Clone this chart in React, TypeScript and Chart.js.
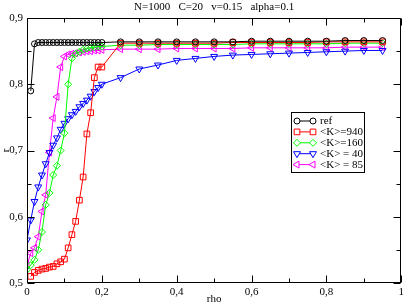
import React, { useEffect, useRef } from 'react';
import { Chart, registerables } from 'chart.js';
import { drawPoint } from 'chart.js/helpers';

Chart.register(...registerables);

const titleText = 'N=1000   C=20   v=0.15   alpha=0.1';

const rho = [0, 0.01, 0.02, 0.03, 0.04, 0.05, 0.06, 0.07, 0.08, 0.09, 0.1, 0.11, 0.12, 0.13, 0.14, 0.15, 0.16, 0.17, 0.18, 0.19, 0.2,
  0.25, 0.3, 0.35, 0.4, 0.45, 0.5, 0.55, 0.6, 0.65, 0.7, 0.75, 0.8, 0.85, 0.9, 0.95];

const rRef = [null, 0.79, 0.861, 0.863, 0.863, 0.863, 0.863, 0.863, 0.863, 0.863, 0.863, 0.863, 0.863, 0.863, 0.863, 0.863, 0.863, 0.863, 0.863, 0.863, 0.863,
  0.864, 0.864, 0.864, 0.864, 0.864, 0.864, 0.864, 0.865, 0.865, 0.865, 0.865, 0.865, 0.866, 0.866, 0.866];

const rK940 = [null, 0.51, 0.516, 0.519, 0.521, 0.522, 0.524, 0.525, 0.529, 0.532, 0.536, 0.553, 0.573, 0.593, 0.625, 0.66, 0.725, 0.757, 0.81, 0.826, 0.826,
  0.862, 0.862, 0.862, 0.862, 0.862, 0.862, 0.863, 0.863, 0.863, 0.863, 0.863, 0.864, 0.864, 0.864, 0.864];

const rK160 = [0.52, 0.527, 0.535, 0.55, 0.577, 0.618, 0.636, 0.663, 0.677, 0.7, 0.726, 0.8, 0.839, 0.846, 0.849, 0.852, 0.854, 0.855, 0.856, 0.857, 0.857,
  0.859, 0.859, 0.86, 0.86, 0.86, 0.86, 0.86, 0.861, 0.861, 0.861, 0.861, 0.861, 0.862, 0.862, 0.862];

const rK40 = [0.565, 0.595, 0.623, 0.645, 0.663, 0.68, 0.697, 0.708, 0.719, 0.732, 0.741, 0.748, 0.754, 0.759, 0.766, 0.771, 0.776, 0.782, 0.789, 0.795, 0.8,
  0.81, 0.823, 0.829, 0.836, 0.839, 0.842, 0.844, 0.845, 0.846, 0.847, 0.848, 0.849, 0.85, 0.851, 0.851];

const rK85 = [0.527, 0.545, 0.553, 0.57, 0.608, 0.633, 0.697, 0.749, 0.781, 0.826, 0.842, 0.845, 0.846, 0.847, 0.848, 0.849, 0.85, 0.85, 0.851, 0.851, 0.852,
  0.853, 0.853, 0.853, 0.854, 0.854, 0.854, 0.854, 0.855, 0.855, 0.855, 0.855, 0.855, 0.856, 0.856, 0.856];

const seriesLabels = ['ref', '<K>=940', '<K>=160', '<K> = 40', '<K> = 85'];
const seriesValues = [rRef, rK940, rK160, rK40, rK85];
const seriesColors = ['#000000', '#ff0000', '#00ff00', '#0000ff', '#ff00ff'];
const seriesStyles = ['circle', 'rect', 'rectRot', 'triangle', 'triangle'];
const seriesRotations = [0, 0, 0, 180, 270];
const seriesRadius = [3, 4, 3.5, 4, 4];

const FONT = 'Liberation Serif';

function fmt(v: number) {
  if (Math.abs(v) < 1e-9) return '0';
  if (Math.abs(v - 1) < 1e-9) return '1';
  return v.toFixed(1).replace('.', ',');
}

const decorPlugin = {
  id: 'decor',
  afterDraw(chart: any) {
    const { ctx, chartArea } = chart;
    const { left, right, top, bottom } = chartArea;
    const xs = chart.scales.x;
    const ys = chart.scales.y;
    ctx.save();
    // title
    ctx.fillStyle = '#000';
    ctx.font = `11px "${FONT}"`;
    ctx.textAlign = 'center';
    ctx.textBaseline = 'middle';
    ctx.fillText(titleText, (left + right) / 2, 7);
    // frame
    ctx.strokeStyle = '#000';
    ctx.lineWidth = 1;
    const L = Math.round(left) + 0.5, R = Math.round(right) - 0.5, T = Math.round(top) + 0.5, B = Math.round(bottom) - 0.5;
    ctx.strokeRect(L, T, R - L, B - T);
    const major = 7, minor = 4;
    const xt = xs.ticks.map((t: any) => t.value);
    const yt = ys.ticks.map((t: any) => t.value);
    const xMinor: number[] = [];
    for (let i = 0; i < xt.length - 1; i++) xMinor.push((xt[i] + xt[i + 1]) / 2);
    const yMinor: number[] = [];
    for (let i = 0; i < yt.length - 1; i++) yMinor.push((yt[i] + yt[i + 1]) / 2);
    ctx.beginPath();
    const xTick = (v: number, len: number) => {
      const px = Math.round(xs.getPixelForValue(v)) + 0.5;
      ctx.moveTo(px, B); ctx.lineTo(px, B - len);
      ctx.moveTo(px, T); ctx.lineTo(px, T + len);
    };
    const yTick = (v: number, len: number) => {
      const py = Math.round(ys.getPixelForValue(v)) + 0.5;
      ctx.moveTo(L, py); ctx.lineTo(L + len, py);
      ctx.moveTo(R, py); ctx.lineTo(R - len, py);
    };
    xt.forEach((v: number) => xTick(v, major));
    xMinor.forEach((v) => xTick(v, minor));
    yt.forEach((v: number) => yTick(v, major));
    yMinor.forEach((v) => yTick(v, minor));
    ctx.stroke();

    // legend
    const bx = 291, by = 112, bw = 73, bh = 60;
    ctx.fillStyle = '#fff';
    ctx.fillRect(bx, by, bw, bh);
    ctx.strokeStyle = '#000';
    ctx.strokeRect(bx + 0.5, by + 0.5, bw, bh);
    ctx.font = `11px "${FONT}"`;
    ctx.textAlign = 'left';
    ctx.textBaseline = 'middle';
    chart.data.datasets.forEach((ds: any, i: number) => {
      const yy = by + 9 + i * 10.9;
      const x1 = bx + 6, x2 = bx + 22;
      ctx.strokeStyle = ds.borderColor;
      ctx.lineWidth = 1;
      ctx.beginPath();
      ctx.moveTo(x1, yy); ctx.lineTo(x2, yy);
      ctx.stroke();
      const opts = {
        pointStyle: ds.pointStyle,
        rotation: ds.pointRotation,
        radius: ds.pointRadius,
        borderWidth: 1,
      };
      ctx.fillStyle = '#fff';
      ctx.strokeStyle = ds.borderColor;
      drawPoint(ctx, opts as any, x1, yy);
      drawPoint(ctx, opts as any, x2, yy);
      ctx.fillStyle = '#000';
      ctx.fillText(ds.label, bx + 29, yy + 0.5);
    });
    ctx.restore();
  },
};

export default function App() {
  const ref = useRef<HTMLCanvasElement | null>(null);
  useEffect(() => {
    document.body.style.margin = '0';
    const canvas = ref.current!;
    const datasets = seriesLabels.map((label, i) => ({
      label,
      data: rho
        .map((x, j) => ({ x, y: seriesValues[i][j] }))
        .filter((p) => p.y !== null),
      borderColor: seriesColors[i],
      backgroundColor: 'rgba(255,255,255,0)',
      borderWidth: 1,
      pointStyle: seriesStyles[i],
      pointRotation: seriesRotations[i],
      pointRadius: seriesRadius[i],
      pointBorderWidth: 1,
      pointBackgroundColor: 'rgba(255,255,255,0)',
      pointBorderColor: seriesColors[i],
      tension: 0,
      fill: false,
    }));
    const chart = new Chart(canvas, {
      type: 'line',
      data: { datasets },
      options: {
        responsive: false,
        animation: false,
        layout: { padding: { top: 18, right: 3, left: 0, bottom: 0 } },
        plugins: { legend: { display: false }, tooltip: { enabled: false }, title: { display: false } },
        scales: {
          x: {
            type: 'linear',
            min: 0,
            max: 1,
            grid: { display: false, drawTicks: false },
            border: { display: false },
            ticks: {
              stepSize: 0.2,
              maxRotation: 0,
              color: '#000',
              padding: 3,
              font: { family: FONT, size: 11 },
              callback: (v: any) => fmt(Number(v)),
            },
            title: { display: true, text: 'rho', color: '#000', font: { family: FONT, size: 11 }, padding: { top: 0, bottom: 1 } },
            afterFit: (s: any) => { s.height = 24; },
          },
          y: {
            type: 'linear',
            min: 0.5,
            max: 0.9,
            grid: { display: false, drawTicks: false },
            border: { display: false },
            ticks: {
              stepSize: 0.1,
              color: '#000',
              padding: 4,
              font: { family: FONT, size: 11 },
              callback: (v: any) => fmt(Number(v)),
            },
            title: { display: true, text: 'r', color: '#000', font: { family: FONT, size: 11 }, padding: { top: 0, bottom: 0 } },
            afterFit: (s: any) => { s.width = 27; },
          },
        },
      },
      plugins: [decorPlugin],
    });
    return () => chart.destroy();
  }, []);
  return (
    <div style={{ width: 407, height: 307 }}>
      <canvas ref={ref} width={407} height={307} style={{ display: 'block' }} />
    </div>
  );
}
